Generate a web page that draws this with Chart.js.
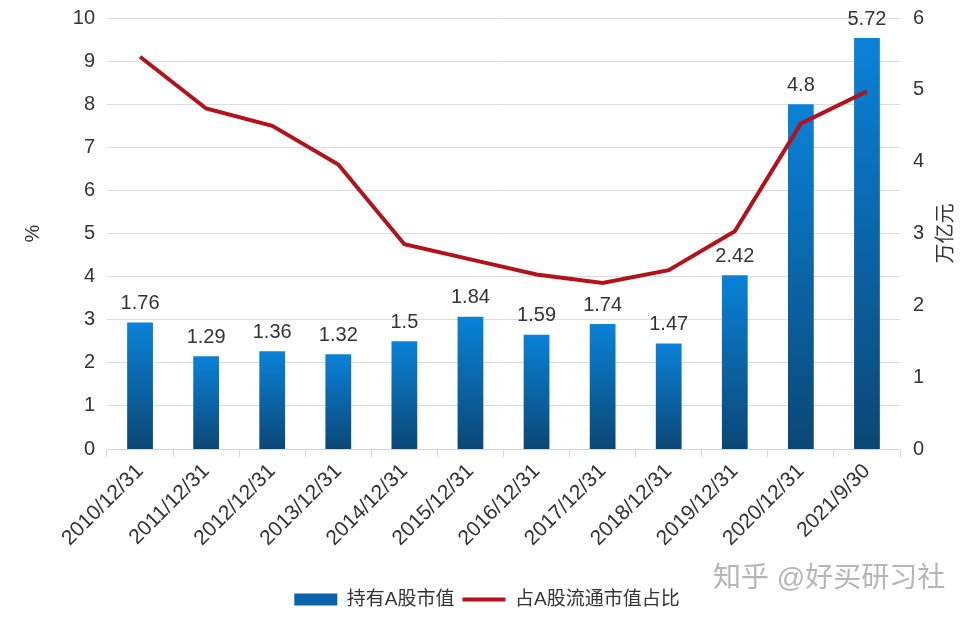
<!DOCTYPE html>
<html>
<head>
<meta charset="utf-8">
<script src="https://cdn.jsdelivr.net/npm/chart.js@4.4.1/dist/chart.umd.min.js"></script>
<style>
  html, body { margin: 0; padding: 0; background: #fff; }
  #wrap { width: 974px; height: 619px; position: relative; }
</style>
</head>
<body>
<div id="wrap"><canvas id="myChart"></canvas></div>
<script>
const categories = ['2010/12/31', '2011/12/31', '2012/12/31', '2013/12/31', '2014/12/31', '2015/12/31',
    '2016/12/31', '2017/12/31', '2018/12/31', '2019/12/31', '2020/12/31', '2021/9/30']
// 持有A股市值 (万亿元, right axis)
const holdValue = [1.76, 1.29, 1.36, 1.32, 1.5, 1.84, 1.59, 1.74, 1.47, 2.42, 4.8, 5.72]
// 占A股流通市值占比 (%, left axis)
const ratioPct = [9.1, 7.9, 7.5, 6.6, 4.75, 4.4, 4.05, 3.85, 4.15, 5.05, 7.55, 8.3]
const leftTicks = [0, 10, 1]
const rightTicks = [0, 6, 1]

const FONT = "'Liberation Sans', 'Noto Sans CJK SC', sans-serif"
const TEXT = '#333333'

// blue gradient per bar: bright on top, dark navy at the base
function barGradient(c) {
    const chart = c.chart
    if (!chart.chartArea || c.raw === undefined) return '#0b62ab'
    const s = chart.scales.y1
    const top = s.getPixelForValue(c.raw)
    const bottom = s.getPixelForValue(0)
    const g = chart.ctx.createLinearGradient(0, top, 0, bottom)
    g.addColorStop(0, '#0a82d8')
    g.addColorStop(1, '#0b4776')
    return g
}

const barLabels = {
    id: 'barLabels',
    afterDatasetsDraw(chart) {
        const ctx = chart.ctx
        const meta = chart.getDatasetMeta(0)
        ctx.save()
        ctx.font = '20px ' + FONT
        ctx.fillStyle = TEXT
        ctx.textAlign = 'center'
        ctx.textBaseline = 'bottom'
        meta.data.forEach((bar, i) => {
            ctx.fillText(String(holdValue[i]), bar.x, bar.y - 9)
        })
        ctx.restore()
    }
}

const extraText = {
    id: 'extraText',
    afterDraw(chart) {
        const ctx = chart.ctx
        const area = chart.chartArea
        const midY = (area.top + area.bottom) / 2
        ctx.save()
        ctx.fillStyle = TEXT
        ctx.font = '20px ' + FONT
        ctx.textAlign = 'center'
        ctx.textBaseline = 'middle'
        // left title
        ctx.save()
        ctx.translate(33, midY)
        ctx.rotate(-Math.PI / 2)
        ctx.fillText('%', 0, 0)
        ctx.restore()
        // right title, reads bottom to top
        ctx.save()
        ctx.translate(946, midY)
        ctx.rotate(-Math.PI / 2)
        ctx.fillText('万亿元', 0, 0)
        ctx.restore()
        // watermark
        ctx.font = '28px ' + FONT
        ctx.fillStyle = 'rgba(150,150,150,0.7)'
        ctx.textAlign = 'left'
        ctx.fillText('知乎 @好买研习社', 713, 579)
        ctx.restore()
    }
}

function fixY(width) {
    return function (scale) {
        scale.width = width
        scale.paddingTop = 0
        scale.paddingBottom = 0
    }
}

new Chart(document.getElementById('myChart'), {
    data: {
        labels: categories,
        datasets: [
            {
                type: 'bar',
                label: '持有A股市值',
                data: holdValue,
                yAxisID: 'y1',
                backgroundColor: barGradient,
                borderWidth: 0,
                barPercentage: 0.78,
                categoryPercentage: 0.5,
                order: 2,
                pointStyle: 'rect'
            },
            {
                type: 'line',
                label: '占A股流通市值占比',
                data: ratioPct,
                yAxisID: 'y',
                borderColor: '#b3121b',
                backgroundColor: '#b3121b',
                borderWidth: 4,
                pointRadius: 0,
                tension: 0,
                order: 1,
                pointStyle: 'line'
            }
        ]
    },
    options: {
        responsive: true,
        maintainAspectRatio: false,
        animation: false,
        layout: {padding: {top: 18, left: 0, right: 0, bottom: 0}},
        plugins: {
            tooltip: {enabled: false},
            legend: {
                position: 'bottom',
                labels: {
                    usePointStyle: true,
                    pointStyleWidth: 43,
                    boxHeight: 12,
                    padding: 8,
                    color: TEXT,
                    font: {size: 19, family: FONT},
                    sort: (a, b) => a.datasetIndex - b.datasetIndex,
                    generateLabels(chart) {
                        const items = Chart.defaults.plugins.legend.labels.generateLabels(chart)
                        items.forEach(it => {
                            if (it.datasetIndex === 0) {
                                it.fillStyle = '#0b62ab'
                                it.strokeStyle = '#0b62ab'
                                it.lineWidth = 0
                            } else {
                                it.strokeStyle = '#b3121b'
                                it.lineWidth = 4
                            }
                        })
                        return items
                    }
                }
            }
        },
        scales: {
            x: {
                offset: true,
                grid: {
                    offset: true,
                    drawOnChartArea: false,
                    drawTicks: true,
                    tickLength: 8,
                    color: '#d4d4d4'
                },
                border: {color: '#d4d4d4'},
                ticks: {
                    minRotation: 45,
                    maxRotation: 45,
                    padding: 2,
                    color: TEXT,
                    font: {size: 21, family: FONT}
                },
                afterFit(scale) { scale.height = 133 }
            },
            y: {
                position: 'left',
                min: leftTicks[0],
                max: leftTicks[1],
                ticks: {stepSize: leftTicks[2], padding: 12, color: TEXT, font: {size: 20, family: FONT}},
                grid: {color: '#dcdcdc', drawTicks: false},
                border: {display: false},
                afterFit: fixY(107)
            },
            y1: {
                position: 'right',
                min: rightTicks[0],
                max: rightTicks[1],
                ticks: {stepSize: rightTicks[2], padding: 13, color: TEXT, font: {size: 20, family: FONT}},
                grid: {display: false, drawTicks: false},
                border: {display: false},
                afterFit: fixY(74)
            }
        }
    },
    plugins: [barLabels, extraText]
})
</script>
</body>
</html>
